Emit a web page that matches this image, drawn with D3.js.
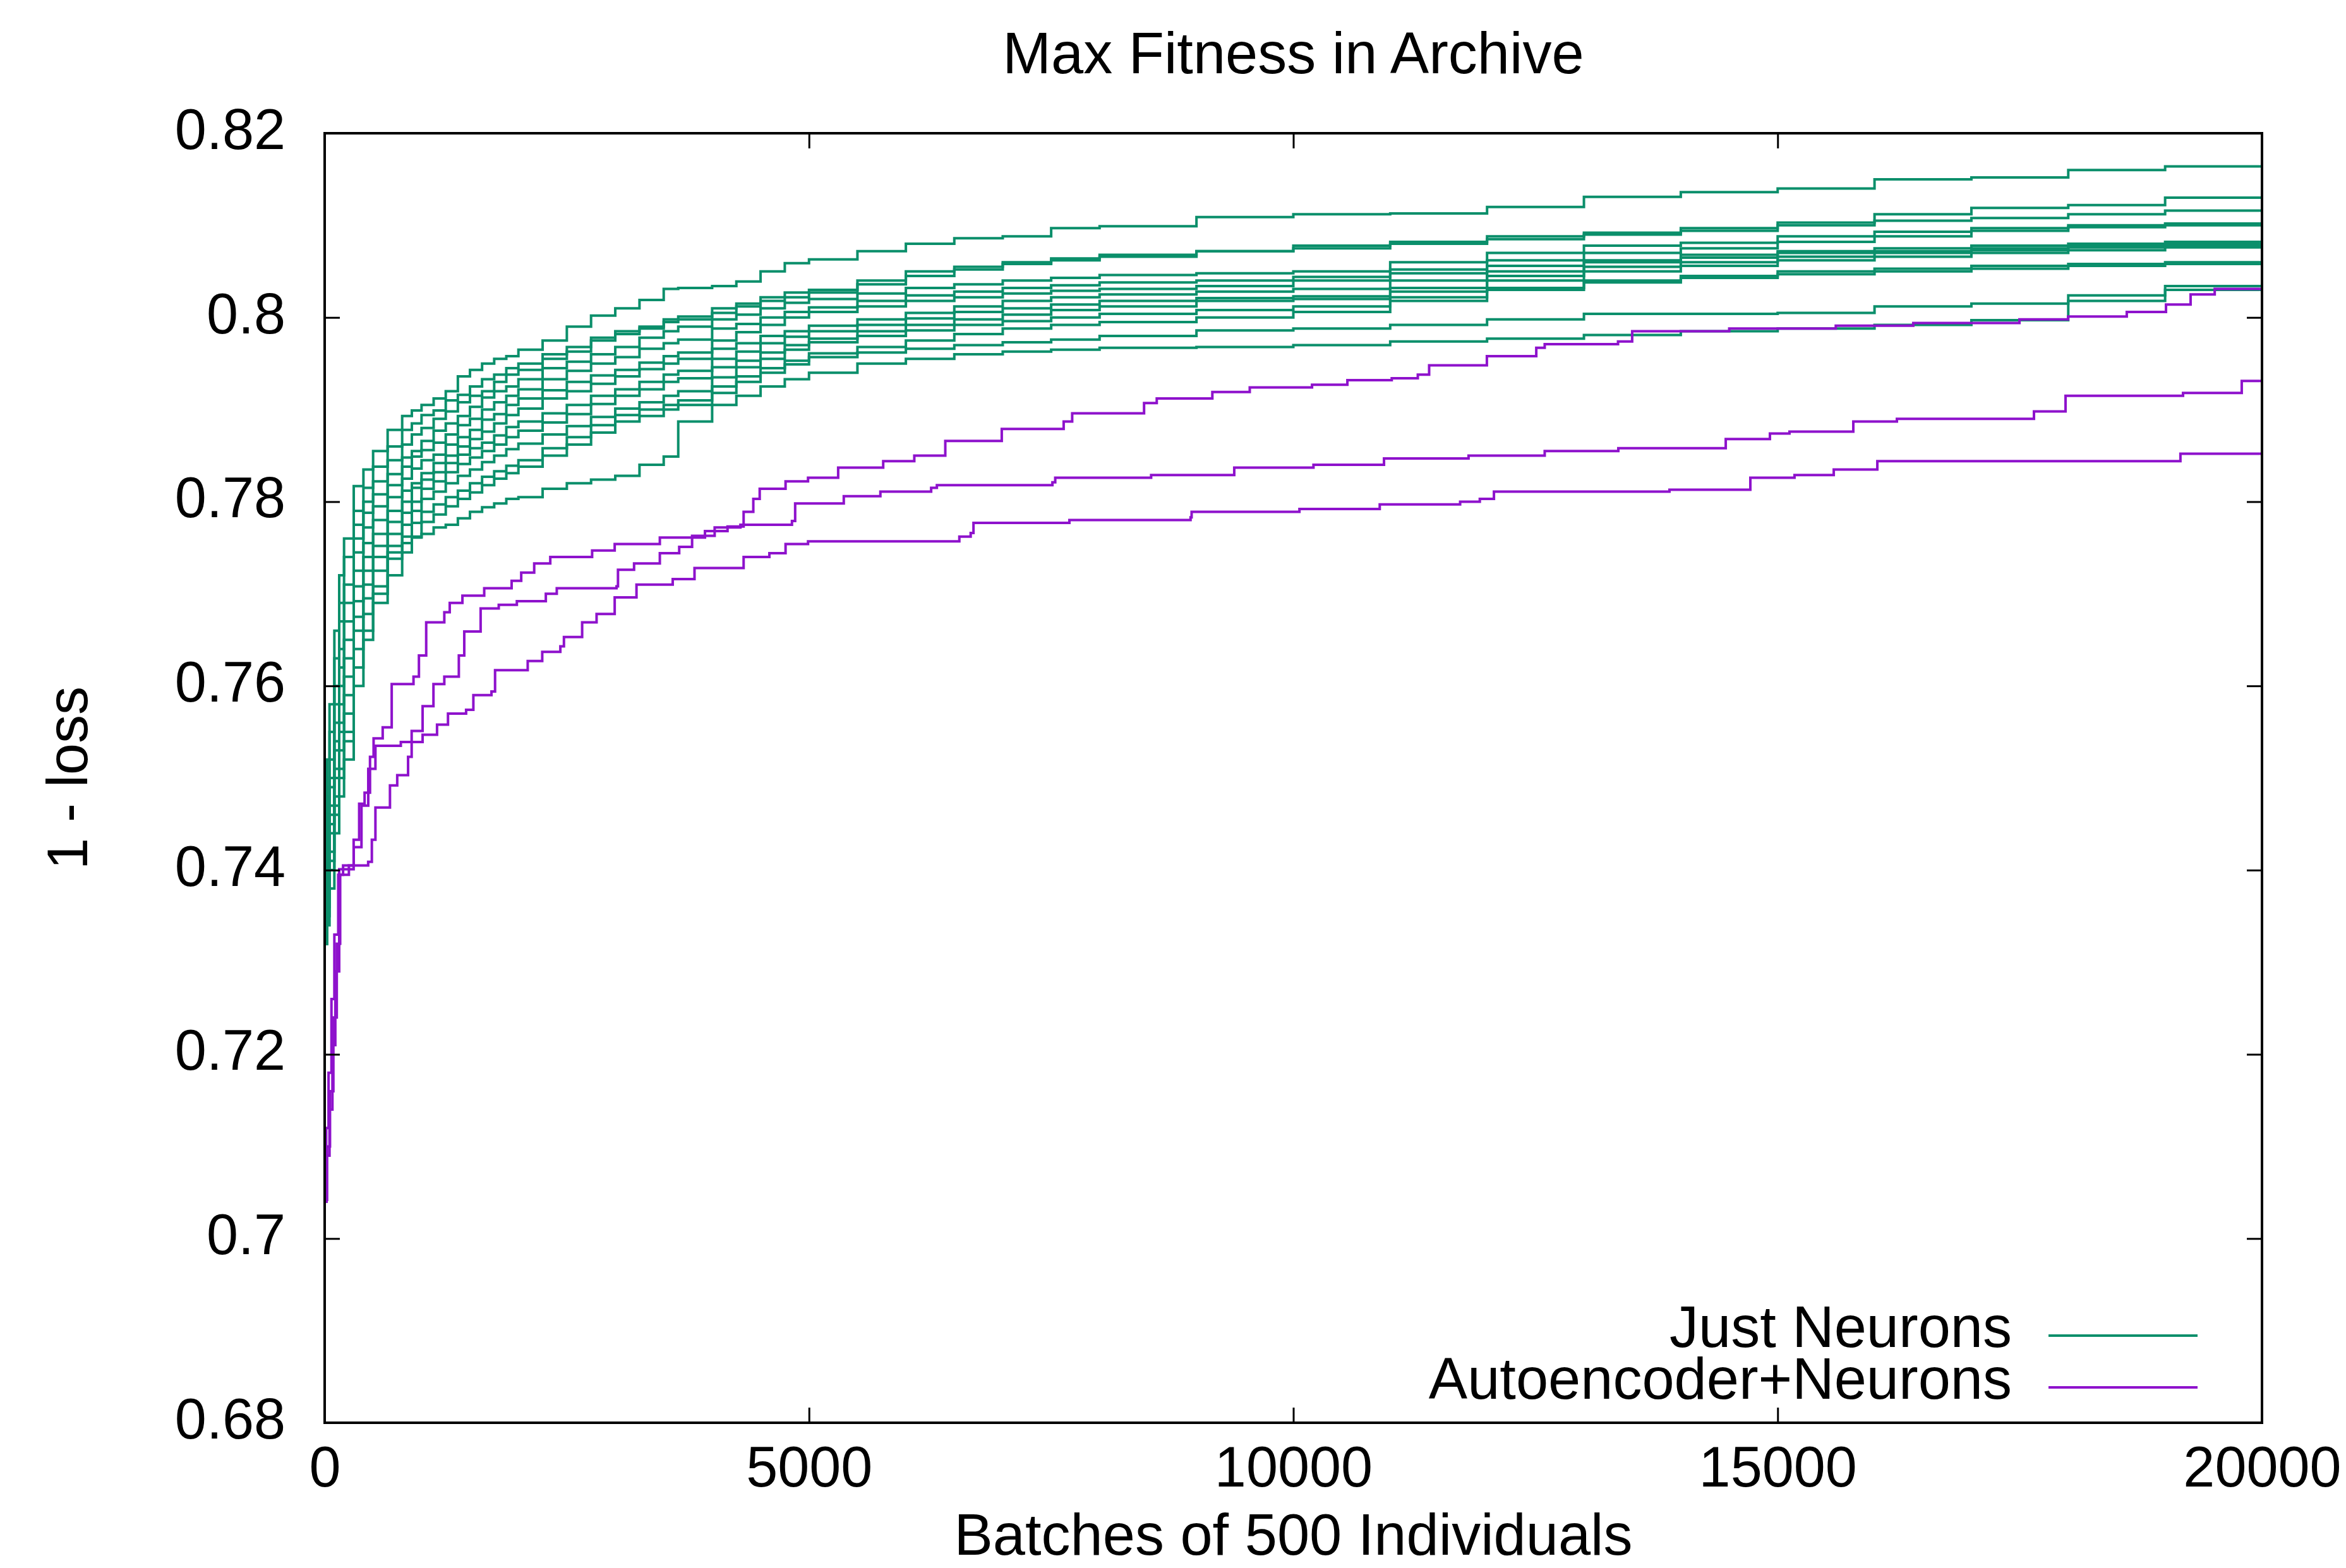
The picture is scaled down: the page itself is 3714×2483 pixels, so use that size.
<!DOCTYPE html>
<html>
<head>
<meta charset="utf-8">
<script src="https://cdn.jsdelivr.net/npm/d3@7"></script>
<style>
  body { margin: 0; background: #fff; }
  svg { display: block; font-family: "Liberation Sans", Arial, sans-serif; }
</style>
</head>
<body>
<svg id="chart"></svg>
<script>
const width = 3714
const height = 2483
const margin = {top: 211, right: 133, bottom: 230, left: 514}
const w = width - margin.left - margin.right
const h = height - margin.top - margin.bottom

const greenColor = '#0b8f6b'
const purpleColor = '#8e12cc'

// tick labels
const xTicks = [0, 5000, 10000, 15000, 20000]
const yTicks = [0.68, 0.70, 0.72, 0.74, 0.76, 0.78, 0.80, 0.82]

// batch numbers shared by the "Just Neurons" runs
const greenBatches = [0, 25, 50, 100, 150, 200, 300, 400, 500, 650,
  800, 900, 1000, 1125, 1250, 1375, 1500, 1625, 1750, 1875, 2000, 2250, 2500, 2750, 3000, 3250, 3500, 3650, 4000, 4250, 4500, 4750, 5000,
  5500, 6000, 6500, 7000, 7500, 8000, 9000, 10000, 11000, 12000, 13000, 14000, 15000, 16000, 17000, 18000, 19000, 20000]

// Just Neurons: one array of max fitness per run
const jn1 = [0.745,0.752,0.758,0.766,0.772,0.776,0.7817,0.7835,0.7855,0.7878,
  0.7893,0.7899,0.7905,0.7912,0.7920,0.7936,0.7943,0.7950,0.7955,0.7958,0.7965,0.7975,0.7990,0.8002,0.8010,0.8019,0.8031,0.8032,0.8034,0.8039,0.8050,0.8059,0.8063,
  0.8072,0.8080,0.8086,0.8088,0.8097,0.8099,0.8109,0.8112,0.8113,0.8120,0.8131,0.8136,0.8140,0.8150,0.8152,0.8160,0.8164,0.8167]
const jn2 = [0.740,0.748,0.755,0.763,0.769,0.774,0.779,0.7815,0.7838,0.7860,
  0.7878,0.7885,0.7894,0.7899,0.7910,0.7916,0.7925,0.7933,0.7938,0.7945,0.7950,0.7960,0.7968,0.7978,0.7985,0.7990,0.7998,0.8001,0.8010,0.8015,0.8022,0.8027,0.8030,
  0.8040,0.8050,0.8055,0.8060,0.8064,0.8068,0.8072,0.8078,0.8082,0.8088,0.8092,0.8097,0.8103,0.8112,0.8119,0.8122,0.8130,0.8134]
const jn3 = [0.738,0.746,0.752,0.760,0.767,0.771,0.7775,0.7800,0.7822,0.7845,
  0.7862,0.7873,0.7880,0.7890,0.7898,0.7908,0.7915,0.7920,0.7930,0.7938,0.7943,0.7955,0.7963,0.7975,0.7982,0.7988,0.7995,0.7998,0.8005,0.8012,0.8018,0.8022,0.8027,
  0.8036,0.8045,0.8052,0.8058,0.8062,0.8066,0.8072,0.8075,0.8080,0.8085,0.8090,0.8094,0.8100,0.8105,0.8108,0.8112,0.8116,0.8116]
const jn4 = [0.736,0.744,0.750,0.758,0.764,0.769,0.7760,0.7788,0.7808,0.7830,
  0.7848,0.7855,0.7866,0.7877,0.7885,0.7893,0.7903,0.7913,0.7920,0.7925,0.7933,0.7945,0.7952,0.7960,0.7968,0.7978,0.7985,0.7990,0.7998,0.8003,0.8010,0.8016,0.8020,
  0.8026,0.8032,0.8036,0.8040,0.8043,0.8046,0.8048,0.8050,0.8060,0.8070,0.8078,0.8081,0.8088,0.8093,0.8097,0.8100,0.8102,0.8104]
const jn5 = [0.735,0.742,0.749,0.756,0.762,0.767,0.7745,0.7772,0.7795,0.7818,
  0.7838,0.7849,0.7856,0.7864,0.7873,0.7883,0.7890,0.7900,0.7908,0.7915,0.7922,0.7933,0.7942,0.7950,0.7957,0.7966,0.7972,0.7976,0.7988,0.7993,0.8000,0.8006,0.8011,
  0.8018,0.8024,0.8028,0.8032,0.8035,0.8038,0.8040,0.8044,0.8052,0.8062,0.8070,0.8075,0.8082,0.8088,0.8094,0.8098,0.8100,0.8101]
const jn6 = [0.734,0.741,0.747,0.754,0.760,0.765,0.7725,0.7755,0.7780,0.7805,
  0.7825,0.7836,0.7845,0.7851,0.7862,0.7870,0.7878,0.7889,0.7895,0.7905,0.7912,0.7921,0.7930,0.7937,0.7943,0.7951,0.7958,0.7962,0.7975,0.7984,0.7992,0.8000,0.8006,
  0.8012,0.8018,0.8022,0.8026,0.8029,0.8031,0.8034,0.8040,0.8048,0.8056,0.8062,0.8068,0.8072,0.8075,0.8078,0.8080,0.8082,0.8084]
const jn7 = [0.733,0.740,0.746,0.753,0.758,0.763,0.7708,0.7740,0.7765,0.7790,
  0.7812,0.7820,0.7831,0.7842,0.7850,0.7860,0.7868,0.7876,0.7885,0.7894,0.7901,0.7912,0.7920,0.7928,0.7936,0.7944,0.7950,0.7955,0.7966,0.7972,0.7980,0.7985,0.7991,
  0.7998,0.8005,0.8012,0.8018,0.8022,0.8025,0.8028,0.8031,0.8040,0.8050,0.8060,0.8065,0.8070,0.8072,0.8075,0.8078,0.8080,0.8081]
const jn8 = [0.733,0.739,0.745,0.751,0.756,0.761,0.7692,0.7725,0.7752,0.7778,
  0.7800,0.7815,0.7824,0.7832,0.7842,0.7851,0.7858,0.7864,0.7872,0.7881,0.7887,0.7896,0.7905,0.7915,0.7922,0.7930,0.7938,0.7942,0.7955,0.7963,0.7972,0.7979,0.7985,
  0.7992,0.7999,0.8006,0.8010,0.8014,0.8018,0.8021,0.8023,0.8032,0.8045,0.8055,0.8060,0.8066,0.8070,0.8073,0.8076,0.8078,0.8079]
const jn9 = [0.732,0.738,0.744,0.750,0.755,0.759,0.7675,0.7710,0.7740,0.7765,
  0.7788,0.7800,0.7814,0.7822,0.7832,0.7841,0.7848,0.7855,0.7862,0.7870,0.7877,0.7886,0.7895,0.7906,0.7915,0.7922,0.7930,0.7934,0.7946,0.7953,0.7962,0.7970,0.7977,
  0.7985,0.7992,0.7998,0.8003,0.8008,0.8012,0.8018,0.8020,0.8028,0.8040,0.8050,0.8056,0.8062,0.8066,0.8070,0.8073,0.8076,0.8077]
const jn10 = [0.732,0.737,0.742,0.748,0.753,0.757,0.7660,0.7695,0.7725,0.7752,
  0.7775,0.7790,0.7803,0.7811,0.7820,0.7828,0.7835,0.7843,0.7850,0.7857,0.7863,0.7873,0.7882,0.7892,0.7901,0.7908,0.7915,0.7920,0.7935,0.7946,0.7955,0.7965,0.7973,
  0.7980,0.7986,0.7992,0.7996,0.8000,0.8004,0.8008,0.8012,0.8022,0.8032,0.8040,0.8045,0.8050,0.8053,0.8056,0.8058,0.8060,0.8061]
const jn11 = [0.732,0.736,0.741,0.747,0.751,0.755,0.7640,0.7678,0.7708,0.7738,
  0.7762,0.7777,0.7789,0.7797,0.7805,0.7812,0.7820,0.7827,0.7833,0.7839,0.7845,0.7858,0.7870,0.7883,0.7894,0.7900,0.7905,0.7910,0.7925,0.7936,0.7945,0.7953,0.7961,
  0.7968,0.7975,0.7982,0.7988,0.7992,0.7995,0.8000,0.8006,0.8018,0.8030,0.8038,0.8043,0.8047,0.8050,0.8053,0.8056,0.8058,0.8059]
const jn12 = [0.732,0.735,0.740,0.746,0.750,0.754,0.7620,0.7660,0.7690,0.7720,
  0.7745,0.7762,0.7778,0.7786,0.7795,0.7803,0.7810,0.7818,0.7825,0.7831,0.7838,0.7850,0.7862,0.7875,0.7887,0.7893,0.7900,0.7905,0.7918,0.7930,0.7940,0.7949,0.7957,
  0.7962,0.7966,0.7970,0.7973,0.7976,0.7980,0.7986,0.7988,0.7992,0.7998,0.8004,0.8004,0.8005,0.8012,0.8015,0.8024,0.8034,0.8038]
const jn13 = [0.732,0.734,0.738,0.744,0.748,0.752,0.7600,0.7650,0.7700,0.7745,
  0.7755,0.7761,0.7765,0.7772,0.7775,0.7782,0.7789,0.7794,0.7798,0.7803,0.7805,0.7814,0.7820,0.7824,0.7828,0.7840,0.7849,0.7887,0.7905,0.7915,0.7925,0.7933,0.7940,
  0.7950,0.7955,0.7960,0.7963,0.7965,0.7967,0.7968,0.7970,0.7974,0.7977,0.7981,0.7985,0.7988,0.7992,0.7997,0.8018,0.8030,0.8036]
const justNeurons = [jn1, jn2, jn3, jn4, jn5, jn6, jn7, jn8, jn9, jn10, jn11, jn12, jn13]

// Autoencoder+Neurons runs: [batch, max fitness]
const ae1 = [[0,0.7045],[15,0.712],[40,0.718],[70,0.726],[100,0.733],[140,0.7395],[190,0.7405],[300,0.7425],[380,0.7470],[450,0.7510],[524,0.7535],[786,0.7539],[898,0.7551],[1011,0.7578],[1123,0.7602],[1235,0.7610],[1385,0.7633],[1441,0.7659],[1610,0.7684],[1797,0.7688],[1984,0.7692],[2283,0.7700],[2396,0.7706],[3013,0.7708],[3028,0.7726],[3194,0.7733],[3460,0.7744],[3660,0.7751],[3793,0.7761],[3926,0.7768],[4159,0.7773],[4325,0.7789],[4425,0.7803],[4491,0.7814],[4758,0.7822],[4990,0.7826],[5301,0.7837],[5766,0.7844],[6087,0.7850],[6407,0.7866],[6990,0.7879],[7629,0.7887],[7717,0.7896],[8459,0.7907],[8590,0.7912],[9164,0.7919],[9550,0.7924],[10193,0.7927],[10558,0.7932],[11016,0.7934],[11285,0.7938],[11402,0.7948],[11998,0.7958],[12508,0.7967],[12595,0.7971],[13352,0.7974],[13498,0.7985],[14500,0.7988],[15600,0.7991],[16400,0.7994],[17496,0.7998],[17998,0.8001],[18604,0.8006],[19009,0.8014],[19263,0.8025],[19512,0.8031],[20000,0.8031]]
const ae2 = [[0,0.704],[20,0.709],[50,0.714],[80,0.721],[110,0.729],[150,0.7401],[299,0.7433],[356,0.7472],[412,0.7484],[468,0.7523],[505,0.7543],[599,0.7555],[692,0.7602],[917,0.7610],[973,0.7633],[1048,0.7669],[1235,0.7680],[1291,0.7690],[1422,0.7698],[1647,0.7706],[1930,0.7714],[2029,0.7723],[2163,0.7733],[2329,0.7740],[2761,0.7747],[2994,0.7754],[3460,0.7761],[3793,0.7763],[4026,0.7772],[4292,0.7775],[4824,0.7779],[4857,0.7798],[5359,0.7806],[5737,0.7811],[6261,0.7815],[6320,0.7818],[7513,0.7821],[7542,0.7826],[8532,0.7829],[9390,0.7837],[10208,0.7840],[10936,0.7847],[11809,0.7850],[12595,0.7855],[13355,0.7858],[14464,0.7868],[14920,0.7874],[15122,0.7876],[15781,0.7887],[16231,0.7890],[17646,0.7898],[17972,0.7915],[19185,0.7918],[19791,0.7931],[20000,0.7933]]
const ae3 = [[0,0.7042],[25,0.710],[55,0.716],[90,0.724],[125,0.732],[160,0.7395],[250,0.7405],[449,0.7409],[487,0.7433],[524,0.7468],[674,0.7492],[749,0.7503],[861,0.7523],[898,0.7539],[1011,0.7547],[1160,0.7558],[1273,0.7570],[1460,0.7574],[1535,0.7590],[1722,0.7594],[1759,0.7617],[2096,0.7627],[2246,0.7637],[2433,0.7643],[2470,0.7653],[2658,0.7669],[2807,0.7678],[2994,0.7696],[3219,0.7710],[3593,0.7716],[3818,0.7728],[4325,0.7740],[4591,0.7744],[4758,0.7754],[4990,0.7757],[6552,0.7762],[6669,0.7766],[6698,0.7777],[7688,0.7780],[8939,0.7783],[8950,0.7789],[10063,0.7792],[10892,0.7797],[11722,0.7800],[11925,0.7803],[12071,0.7811],[13883,0.7813],[14718,0.7826],[15174,0.7829],[15579,0.7835],[16029,0.7844],[19158,0.7852],[20000,0.7852]]
const autoencoderNeurons = [ae1, ae2, ae3]

const svg = d3.select('#chart').attr('width', width).attr('height', height)
svg.append('rect').attr('width', width).attr('height', height).attr('fill', '#fff')

const g = svg.append('g').attr('transform', `translate(${margin.left},${margin.top})`)

const x = d3.scaleLinear().domain([0, 20000]).range([0, w])
const y = d3.scaleLinear().domain([0.68, 0.82]).range([h, 0])

g.append('clipPath').attr('id', 'plot-clip')
  .append('rect').attr('width', w).attr('height', h)

const line = d3.line()
  .x(d => x(d[0]))
  .y(d => y(d[1]))
  .curve(d3.curveStepAfter)

const lines = g.append('g').attr('clip-path', 'url(#plot-clip)')

// just neurons first, autoencoder runs drawn over them
lines.selectAll('.jn').data(justNeurons).enter().append('path')
  .attr('class', 'jn')
  .attr('d', vals => line(vals.map((v, i) => [greenBatches[i], v])))
  .attr('fill', 'none')
  .attr('stroke', greenColor)
  .attr('stroke-width', 4)

lines.selectAll('.ae').data(autoencoderNeurons).enter().append('path')
  .attr('class', 'ae')
  .attr('d', d => line(d))
  .attr('fill', 'none')
  .attr('stroke', purpleColor)
  .attr('stroke-width', 4)

// axes, ticks pointing inwards, mirrored on top and right
const fontSize = 90
const xAxis = d3.axisBottom(x).tickValues(xTicks).tickFormat(d3.format('d')).tickSize(-24).tickPadding(37)
const yAxis = d3.axisLeft(y).tickValues(yTicks).tickFormat(d => String(+d.toFixed(2))).tickSize(-24).tickPadding(62)

const gx = g.append('g').attr('transform', `translate(0,${h})`).call(xAxis)
const gy = g.append('g').call(yAxis)
g.append('g').call(d3.axisTop(x).tickValues(xTicks).tickFormat('').tickSize(-24))
g.append('g').attr('transform', `translate(${w},0)`).call(d3.axisRight(y).tickValues(yTicks).tickFormat('').tickSize(-24))

g.selectAll('.domain').remove()
g.selectAll('.tick line').attr('stroke', '#000').attr('stroke-width', 3)
g.selectAll('.tick text')
  .attr('fill', '#000')
  .style('font-size', fontSize + 'px')
  .style('font-family', '"Liberation Sans", Arial, sans-serif')
gy.selectAll('.tick text').attr('dy', '0.27em')

g.append('rect')
  .attr('width', w).attr('height', h)
  .attr('fill', 'none').attr('stroke', '#000').attr('stroke-width', 4)

// titles
svg.append('text')
  .attr('x', margin.left + w / 2).attr('y', 116)
  .attr('text-anchor', 'middle')
  .style('font-size', '92px')
  .text('Max Fitness in Archive')

svg.append('text')
  .attr('x', margin.left + w / 2).attr('y', 2462)
  .attr('text-anchor', 'middle')
  .style('font-size', '92px')
  .text('Batches of 500 Individuals')

svg.append('text')
  .attr('transform', `translate(138,${margin.top + h / 2}) rotate(-90)`)
  .attr('text-anchor', 'middle')
  .style('font-size', fontSize + 'px')
  .text('1 - loss')

// legend
const legendItems = [
  {label: 'Just Neurons', color: greenColor, y: 2133},
  {label: 'Autoencoder+Neurons', color: purpleColor, y: 2215}
]
const legend = svg.append('g')
legend.selectAll('text').data(legendItems).enter().append('text')
  .attr('x', 3185).attr('y', d => d.y)
  .attr('text-anchor', 'end')
  .style('font-size', '92px')
  .text(d => d.label)
legend.selectAll('line').data(legendItems).enter().append('line')
  .attr('x1', 3243).attr('x2', 3479)
  .attr('y1', d => d.y - 18).attr('y2', d => d.y - 18)
  .attr('stroke', d => d.color)
  .attr('stroke-width', 4)
</script>
</body>
</html>
